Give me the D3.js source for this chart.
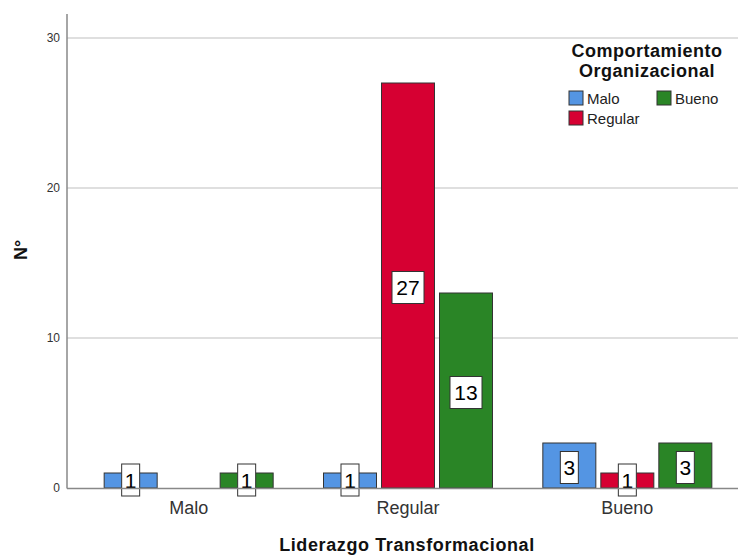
<!DOCTYPE html>
<html>
<head>
<meta charset="utf-8">
<script src="https://cdn.jsdelivr.net/npm/d3@7"></script>
<style>
  body { margin: 0; background: #fff; }
  text { font-family: Arial, "Liberation Sans", sans-serif; }
</style>
</head>
<body>
<svg width="738" height="555"></svg>
<script>
const categories = ["Malo", "Regular", "Bueno"];
const seriesNames = ["Malo", "Regular", "Bueno"];
const malo = [1, 1, 3];
const regular = [0, 27, 1];
const bueno = [1, 13, 3];
const yTicks = [0, 10, 20, 30];
const colors = ["#5495e3", "#d60032", "#2a8526"];

const values = [malo, regular, bueno];

const svg = d3.select("svg");
const margin = {left: 67, top: 14, bottom: 488, right: 738};

const x = d3.scaleBand().domain(categories).range([79, 737]);
const xs = d3.scaleBand().domain(seriesNames).range([0, 174]);
const y = d3.scaleLinear().domain([0, 30]).range([488, 38]);

// grid lines
svg.append("g").selectAll("line")
  .data(yTicks.filter(d => d > 0))
  .enter().append("line")
  .attr("x1", margin.left).attr("x2", 738)
  .attr("y1", d => y(d)).attr("y2", d => y(d))
  .attr("stroke", "#d4d4d4").attr("stroke-width", 1.5);

// y axis
const yAxis = svg.append("g")
  .attr("transform", `translate(${margin.left},0)`)
  .call(d3.axisLeft(y).tickValues(yTicks).tickSize(0).tickPadding(7));
yAxis.select(".domain").remove();
yAxis.selectAll("text").attr("font-size", 12).attr("fill", "#333");

svg.append("line")
  .attr("x1", margin.left).attr("x2", margin.left)
  .attr("y1", margin.top).attr("y2", 488.5)
  .attr("stroke", "#888").attr("stroke-width", 1.5);

// bars
const groups = svg.append("g").selectAll("g")
  .data(categories)
  .enter().append("g")
  .attr("transform", d => `translate(${x(d) + x.bandwidth() / 2 - 87},0)`);

const bars = groups.selectAll("g.bar")
  .data((c, i) => seriesNames.map((s, j) => ({cat: c, series: s, value: values[j][i], j: j})).filter(d => d.value > 0))
  .enter().append("g").attr("class", "bar");

bars.append("rect")
  .attr("x", d => xs(d.series) + 2.5)
  .attr("width", xs.bandwidth() - 5)
  .attr("y", d => y(d.value))
  .attr("height", d => y(0) - y(d.value))
  .attr("fill", d => colors[d.j])
  .attr("stroke", "#333").attr("stroke-width", 1);

// x axis baseline
svg.append("line")
  .attr("x1", margin.left).attr("x2", 738)
  .attr("y1", 488.5).attr("y2", 488.5)
  .attr("stroke", "#888").attr("stroke-width", 1.5);

// value labels
const lab = bars.append("g")
  .attr("transform", d => {
    const cx = xs(d.series) + xs.bandwidth() / 2;
    const cy = d.value < 2 ? 480 : (y(d.value) + y(0)) / 2 + 2;
    return `translate(${cx},${cy})`;
  });
lab.append("rect")
  .attr("x", d => d.value >= 10 ? -16 : -9)
  .attr("width", d => d.value >= 10 ? 32 : 18)
  .attr("y", -16).attr("height", 32)
  .attr("fill", "#fff").attr("stroke", "#333").attr("stroke-width", 1);
lab.append("text")
  .attr("text-anchor", "middle").attr("dy", "0.36em")
  .attr("font-size", 21).attr("fill", "#000")
  .text(d => d.value);

// x axis labels
svg.append("g").selectAll("text")
  .data(categories)
  .enter().append("text")
  .attr("x", d => x(d) + x.bandwidth() / 2)
  .attr("y", 514)
  .attr("text-anchor", "middle")
  .attr("font-size", 18).attr("fill", "#333")
  .text(d => d);

// axis titles
svg.append("text")
  .attr("x", 407).attr("y", 551)
  .attr("text-anchor", "middle")
  .attr("font-size", 18).attr("font-weight", "bold").attr("fill", "#111")
  .attr("letter-spacing", 0.6)
  .text("Liderazgo Transformacional");

svg.append("text")
  .attr("transform", "translate(27,250) rotate(-90)")
  .attr("text-anchor", "middle")
  .attr("font-size", 18).attr("font-weight", "bold").attr("fill", "#111")
  .text("N°");

// legend
const legend = svg.append("g");
legend.append("text")
  .attr("x", 647).attr("y", 57)
  .attr("text-anchor", "middle")
  .attr("font-size", 18).attr("font-weight", "bold").attr("fill", "#111")
  .attr("letter-spacing", 0.5)
  .text("Comportamiento");
legend.append("text")
  .attr("x", 647).attr("y", 77)
  .attr("text-anchor", "middle")
  .attr("font-size", 18).attr("font-weight", "bold").attr("fill", "#111")
  .attr("letter-spacing", 0.5)
  .text("Organizacional");

const legendPos = [[569, 91], [569, 111], [657, 91]];
const items = legend.selectAll("g.item")
  .data(seriesNames)
  .enter().append("g").attr("class", "item")
  .attr("transform", (d, i) => `translate(${legendPos[i][0]},${legendPos[i][1]})`);
items.append("rect")
  .attr("width", 14).attr("height", 14)
  .attr("fill", (d, i) => colors[i])
  .attr("stroke", "#333").attr("stroke-width", 1);
items.append("text")
  .attr("x", 18).attr("y", 13)
  .attr("font-size", 15).attr("fill", "#222")
  .text(d => d);
</script>
</body>
</html>
